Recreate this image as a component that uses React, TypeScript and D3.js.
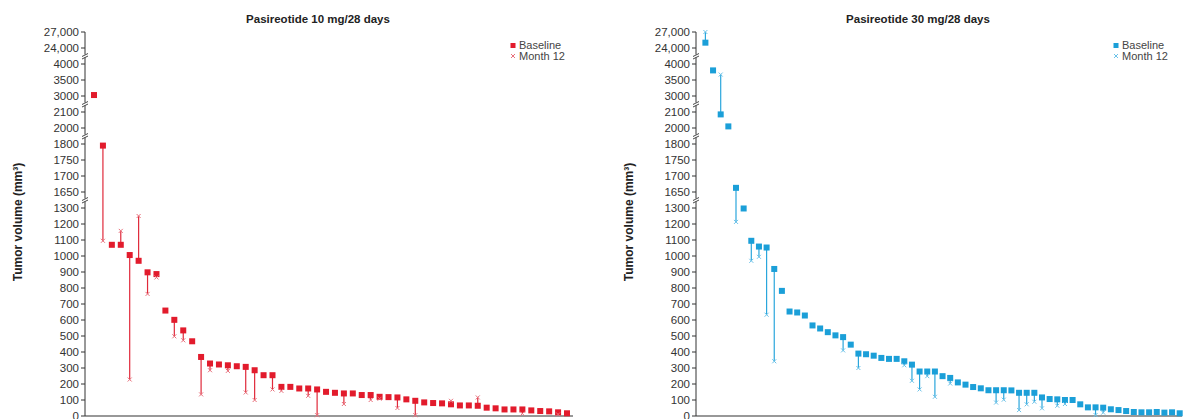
import React from "react";
import * as d3 from "d3";

// ---------- data ----------
const leftBaseline = [3030, 1795, 1070, 1070, 1006, 970, 898, 887, 659, 601, 535, 467, 369, 328, 322, 317, 311, 307, 286, 255, 255, 182, 182, 172, 172, 166, 151, 145, 141, 141, 131, 131, 120, 118, 116, 104, 95, 85, 81, 79, 73, 66, 66, 64, 52, 48, 41, 41, 41, 35, 31, 29, 23, 17];
const leftMonth12: (number | null)[] = [null, 1095, null, 1157, 228, 1250, 763, 866, null, 498, 473, null, 135, 286, null, 282, null, 147, 100, null, 166, 157, null, null, 126, 5, null, null, 75, null, null, 100, 108, null, 50, null, 5, null, null, null, 95, null, null, 116, null, null, null, null, 15, null, null, null, 10, null];

const rightBaseline = [25000, 3800, 2085, 2010, 1663, 1297, 1095, 1059, 1053, 919, 782, 653, 647, 628, 566, 547, 524, 504, 493, 446, 390, 386, 377, 363, 357, 357, 342, 321, 278, 278, 278, 249, 238, 210, 196, 181, 173, 161, 161, 161, 160, 145, 145, 145, 116, 106, 104, 100, 100, 73, 54, 54, 52, 42, 37, 31, 25, 23, 23, 25, 21, 23, 17];
const rightMonth12: (number | null)[] = [27000, null, 3670, null, 1213, null, 970, 995, 633, 342, null, null, null, null, null, null, null, null, 410, null, 300, null, null, null, null, null, 317, 220, 166, 249, 120, null, 203, null, null, null, null, null, 84, 102, null, 37, 73, 89, 48, null, 64, 75, null, null, null, 6, 21, null, null, null, null, null, null, null, null, null, null];

const yDomain = [0, 1300, 1650, 1800, 2000, 2100, 3000, 4000, 24000, 27000];
const ySlots = [0, 13, 14, 17, 18, 19, 20, 22, 23, 24];
const yTicks = [0, 100, 200, 300, 400, 500, 600, 700, 800, 900, 1000, 1100, 1200, 1300, 1650, 1700, 1750, 1800, 2000, 2100, 3000, 3500, 4000, 24000, 27000];
const breakSlots = [13.5, 17.5, 19.5, 22.5];

const titles = ["Pasireotide 10 mg/28 days", "Pasireotide 30 mg/28 days"];
const legendLabels = ["Baseline", "Month 12"];
const yLabel = "Tumor volume (mm³)";

// ---------- layout ----------
const W = 1186;
const H = 419;
const yBottom = 416;
const slotStep = 16;
const FONT = "'Liberation Sans', Arial, Helvetica, sans-serif";

const yScale = d3
  .scaleLinear()
  .domain(yDomain)
  .range(ySlots.map((s) => yBottom - s * slotStep));
const slotToY = d3.scaleLinear().domain([0, 24]).range([yBottom, yBottom - 24 * slotStep]);

const fmt = (v: number) => (v >= 10000 ? d3.format(",")(v) : String(v));

type Panel = {
  title: string;
  baseline: number[];
  month12: (number | null)[];
  color: string;
  lineColor: string;
  m12Color: string;
  axisX: number;
  xEnd: number;
  firstX: number;
  lastX: number;
  titleX: number;
  legendX: number;
  labelX: number;
  size: number;
};

const panels: Panel[] = [
  {
    title: titles[0],
    baseline: leftBaseline,
    month12: leftMonth12,
    color: "#e21b2c",
    lineColor: "#e0293a",
    m12Color: "#e8707c",
    axisX: 85,
    xEnd: 573,
    firstX: 94,
    lastX: 567,
    titleX: 318,
    legendX: 513,
    labelX: 18,
    size: 6,
  },
  {
    title: titles[1],
    baseline: rightBaseline,
    month12: rightMonth12,
    color: "#1b9fd8",
    lineColor: "#2aa6dc",
    m12Color: "#6cc2e8",
    axisX: 696,
    xEnd: 1182,
    firstX: 705.4,
    lastX: 1179.7,
    titleX: 918,
    legendX: 1116,
    labelX: 629,
    size: 6,
  },
];

function Cross({ x, y, r, color }: { x: number; y: number; r: number; color: string }) {
  return (
    <g stroke={color} strokeWidth={1}>
      <line x1={x - r} y1={y - r} x2={x + r} y2={y + r} />
      <line x1={x - r} y1={y + r} x2={x + r} y2={y - r} />
    </g>
  );
}

function PanelView({ p }: { p: Panel }) {
  const n = p.baseline.length;
  const x = d3.scaleLinear().domain([0, n - 1]).range([p.firstX, p.lastX]);
  const yTop = yScale(27000);
  const s = p.size;
  return (
    <g>
      <text
        x={p.titleX}
        y={23}
        textAnchor="middle"
        fontFamily={FONT}
        fontWeight="bold"
        fontSize={11.5}
        fill="#222"
      >
        {p.title}
      </text>
      {/* y label */}
      <text
        transform={`translate(${p.labelX + 4},${222}) rotate(-90)`}
        textAnchor="middle"
        fontFamily={FONT}
        fontWeight="bold"
        fontSize={12}
        fill="#222"
      >
        {yLabel}
      </text>
      {/* y axis */}
      <line x1={p.axisX} x2={p.axisX} y1={yTop} y2={yBottom} stroke="#333" strokeWidth={1} />
      {yTicks.map((t) => (
        <g key={t}>
          <line x1={p.axisX - 4} x2={p.axisX} y1={yScale(t)} y2={yScale(t)} stroke="#333" strokeWidth={1} />
          <text
            x={p.axisX - 6}
            y={yScale(t)}
            dy="0.35em"
            textAnchor="end"
            fontFamily={FONT}
            fontSize={11.5}
            fill="#333"
          >
            {fmt(t)}
          </text>
        </g>
      ))}
      {breakSlots.map((b) => {
        const yb = slotToY(b);
        return (
          <g key={b}>
            <rect x={p.axisX - 2} y={yb - 1.5} width={4} height={3} fill="#fff" />
            <line x1={p.axisX - 3} y1={yb + 0.5} x2={p.axisX + 3} y2={yb - 2.5} stroke="#333" strokeWidth={0.9} />
            <line x1={p.axisX - 3} y1={yb + 3} x2={p.axisX + 3} y2={yb} stroke="#333" strokeWidth={0.9} />
          </g>
        );
      })}
      {/* x axis */}
      <line x1={p.axisX} x2={p.xEnd} y1={yBottom} y2={yBottom} stroke="#333" strokeWidth={1.2} />
      {/* connectors */}
      {p.baseline.map((b, i) => {
        const m = p.month12[i];
        if (m == null) return null;
        return (
          <line
            key={"l" + i}
            x1={x(i)}
            x2={x(i)}
            y1={yScale(b)}
            y2={yScale(m)}
            stroke={p.lineColor}
            strokeWidth={1.2}
          />
        );
      })}
      {p.baseline.map((b, i) => (
        <rect key={"b" + i} x={x(i) - s / 2} y={yScale(b) - s / 2} width={s} height={s} fill={p.color} />
      ))}
      {p.month12.map((m, i) =>
        m == null ? null : <Cross key={"m" + i} x={x(i)} y={yScale(m)} r={2} color={p.m12Color} />
      )}
      {/* legend */}
      <rect x={p.legendX - 2.5} y={45.5 - 2.5} width={5} height={5} fill={p.color} />
      <text x={p.legendX + 6} y={45.5} dy="0.35em" fontFamily={FONT} fontSize={11} fill="#444">
        {legendLabels[0]}
      </text>
      <Cross x={p.legendX} y={56} r={2} color={p.m12Color} />
      <text x={p.legendX + 6} y={56} dy="0.35em" fontFamily={FONT} fontSize={11} fill="#444">
        {legendLabels[1]}
      </text>
    </g>
  );
}

export default function App() {
  return (
    <div style={{ position: "absolute", left: 0, top: 0 }}>
      <svg width={W} height={H} style={{ display: "block", background: "#fff" }}>
        {panels.map((p) => (
          <PanelView key={p.title} p={p} />
        ))}
      </svg>
    </div>
  );
}
